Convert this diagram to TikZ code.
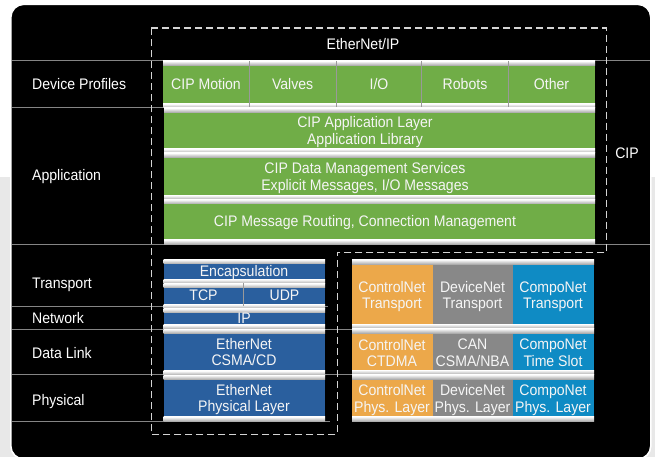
\documentclass[tikz,border=0pt]{standalone}
\usepackage{fontspec}
\setmainfont[FakeStretch=0.92]{Liberation Sans}
\definecolor{cipgreen}{RGB}{112,173,71}
\definecolor{ethblue}{RGB}{42,95,158}
\definecolor{cnorange}{RGB}{236,168,74}
\definecolor{dngray}{RGB}{136,136,136}
\definecolor{cpblue}{RGB}{15,139,196}
\definecolor{sidegray}{RGB}{232,232,232}
\newcommand\mkblock[5]{%
  \fill[#5] (#1,#2) rectangle (#3,#4);
  \shade[bar] (#1,#2) rectangle (#3,{#2+4.2});
  \shade[bar] (#1,{#4-4.2}) rectangle (#3,#4);
}
\newcommand\mkrow[2]{%
  \fill[cnorange] (352,#1) rectangle (432.5,#2);
  \fill[dngray] (432.5,#1) rectangle (512.5,#2);
  \fill[cpblue] (512.5,#1) rectangle (594,#2);
  \shade[bar] (352,#1) rectangle (594,{#1+4.5});
  \shade[bar] (352,{#2-4.5}) rectangle (594,#2);
}
\begin{document}
\begin{tikzpicture}[x=1pt,y=-1pt,
  txt/.style={font=\fontsize{15.3}{16.5}\selectfont, text=white, inner sep=0pt, text depth=0pt},
  lbl/.style={txt, anchor=west},
  btxt/.style={txt, text=black!4, align=center},
  hline/.style={draw=black!48, line width=0.9pt},
  bar/.style={top color=white, bottom color=black!32},
  divline/.style={draw=black!40, line width=0.8pt},
  outline/.style={draw=black!17, line width=1.1pt, dash pattern=on 7pt off 4pt}]
\useasboundingbox (0,0) rectangle (655,457);
% background
\fill[white] (0,0) rectangle (655,177);
\fill[sidegray] (0,177) rectangle (655,457);
\draw[white, line width=1.6pt, fill=black, rounded corners=13pt] (10.8,4.3) rectangle (650.8,459);
% layer separator lines
\draw[hline] (12,60.5) -- (650,60.5);
\draw[hline] (12,107.3) -- (164,107.3);
\draw[hline] (12,244.3) -- (650,244.3);
\draw[hline] (12,306.5) -- (328,306.5);
\draw[hline] (12,329.3) -- (352,329.3);
\draw[hline] (12,374.7) -- (352,374.7);
\draw[hline] (12,421) -- (330,421);
% CIP green stack
\mkblock{163}{61}{595}{108}{cipgreen}
\draw[divline] (249.3,61) -- (249.3,107.5);
\draw[divline] (336,61) -- (336,107.5);
\draw[divline] (421.7,61) -- (421.7,107.5);
\draw[divline] (508.3,61) -- (508.3,107.5);
\mkblock{164}{108}{595}{153}{cipgreen}
\mkblock{164}{153}{595}{199.5}{cipgreen}
\mkblock{164}{199.5}{595}{244}{cipgreen}
% EtherNet/IP blue stack
\mkblock{163.5}{259.5}{325}{283.5}{ethblue}
\mkblock{163.5}{283.5}{325}{308.5}{ethblue}
\draw[divline] (243.7,283) -- (243.7,306);
\mkblock{163.5}{308.5}{325}{329}{ethblue}
\mkblock{163.5}{329}{325}{375}{ethblue}
\mkblock{163.5}{375}{325}{421}{ethblue}
% other networks
\mkrow{259.5}{328.5}
\mkrow{328.5}{374.5}
\mkrow{374.5}{421}
% EtherNet/IP outline
\draw[outline] (151.3,28) -- (606.7,28) -- (606.7,252.3) -- (337.5,252.3) -- (337.5,434.3) -- (151.3,434.3) -- cycle;
% left labels
\node[lbl] (ldp) at (32,84) {Device Profiles};
\node[lbl] (lapp) at (32,174.7) {Application};
\node[lbl] (ltr) at (32,282.8) {Transport};
\node[lbl] (lnet) at (32,318) {Network};
\node[lbl] (ldl) at (32,352.8) {Data Link};
\node[lbl] (lph) at (32,399.5) {Physical};
\node[txt] (eip) at (363,43.5) {EtherNet/IP};
\node[txt] (cip) at (627,153.5) {CIP};
% green texts
\node[btxt] (pmot) at (206,84) {CIP Motion};
\node[btxt] (pval) at (292.6,84) {Valves};
\node[btxt] (pio) at (379,84) {I/O};
\node[btxt] (prob) at (465,84) {Robots};
\node[btxt] (poth) at (551.5,84) {Other};
\node[btxt] (appl) at (365,130.5) {CIP Application Layer\\Application Library};
\node[btxt] (dms) at (365,176.3) {CIP Data Management Services\\Explicit Messages, I/O Messages};
\node[btxt] (rout) at (365,220.8) {CIP Message Routing, Connection Management};
% blue texts
\node[btxt] (enc) at (244,270.8) {Encapsulation};
\node[btxt] (tcp) at (203.5,295) {TCP};
\node[btxt] (udp) at (284.5,295) {UDP};
\node[btxt] (ip) at (244,318.5) {IP};
\node[btxt] (ecsma) at (244,352) {EtherNet\\CSMA/CD};
\node[btxt] (ephy) at (244,398) {EtherNet\\Physical Layer};
% other network texts
\node[btxt] (cnt) at (392,295) {ControlNet\\Transport};
\node[btxt] (dnt) at (472.5,295) {DeviceNet\\Transport};
\node[btxt] (cpt) at (553,295) {CompoNet\\Transport};
\node[btxt] (cnd) at (392,352.8) {ControlNet\\CTDMA};
\node[btxt] (dnd) at (472.5,352.8) {CAN\\CSMA/NBA};
\node[btxt] (cpd) at (553,352.8) {CompoNet\\Time Slot};
\node[btxt] (cnp) at (392,398.5) {ControlNet\\Phys. Layer};
\node[btxt] (dnp) at (472.5,398.5) {DeviceNet\\Phys. Layer};
\node[btxt] (cpp) at (553,398.5) {CompoNet\\Phys. Layer};
\end{tikzpicture}
\end{document}
